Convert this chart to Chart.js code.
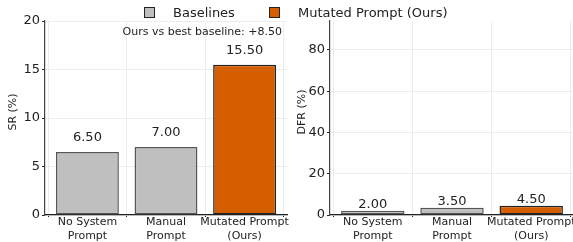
<!DOCTYPE html>
<html lang="en">

<head>
  <meta charset="UTF-8">
  <title>SR / DFR comparison</title>
  <style>
    body {
      margin: 0;
      width: 573px;
      height: 242px;
      overflow: hidden;
      background: white;
      position: relative;
      font-family: "DejaVu Sans", sans-serif;
      color: #222;
    }

    canvas {
      position: absolute;
      top: 0;
    }

    .legend-box {
      position: absolute;
      top: 7px;
      width: 9px;
      height: 9px;
      border: 1px solid #222;
    }

    .legend-text {
      position: absolute;
      top: 5px;
      font-size: 13px;
      line-height: 16px;
      white-space: nowrap;
    }

    .note {
      position: absolute;
      top: 25px;
      right: 291px;
      font-size: 11px;
      line-height: 14px;
      white-space: nowrap;
    }
  </style>
</head>

<body>
  <canvas id="srChart" width="290" height="242" style="left:0"></canvas>
  <canvas id="dfrChart" width="292" height="242" style="left:285px"></canvas>

  <div class="legend-box" style="left:144px;background:#bfbfbf"></div>
  <div class="legend-text" style="left:173px">Baselines</div>
  <div class="legend-box" style="left:269px;background:#d55e00"></div>
  <div class="legend-text" style="left:298px">Mutated Prompt (Ours)</div>
  <div class="note" id="note"></div>

  <script src="https://cdn.jsdelivr.net/npm/chart.js"></script>
  <script>
    // data
    const categories = [['No System', 'Prompt'], ['Manual', 'Prompt'], ['Mutated Prompt', '(Ours)']];
    const srValues = [6.5, 7.0, 15.5];
    const dfrValues = [2.0, 3.5, 4.5];
    const srTicks = [0, 5, 10, 15, 20];
    const dfrTicks = [0, 20, 40, 60, 80];

    const GRAY = '#bfbfbf';
    const ORANGE = '#d55e00';
    const FONT = '"DejaVu Sans"';

    // ours vs best baseline
    const best = Math.max(...srValues.slice(0, -1));
    const gain = srValues[srValues.length - 1] - best;
    document.getElementById('note').textContent = 'Ours vs best baseline: +' + gain.toFixed(2);

    // labels sit one axis unit above each bar
    const valueLabels = {
      id: 'valueLabels',
      afterDatasetsDraw(chart) {
        const ctx = chart.ctx;
        const yScale = chart.scales.y;
        ctx.save();
        ctx.font = '13px ' + FONT;
        ctx.fillStyle = '#222';
        ctx.textAlign = 'center';
        ctx.textBaseline = 'alphabetic';
        chart.getDatasetMeta(0).data.forEach((bar, i) => {
          const v = chart.data.datasets[0].data[i].y;
          ctx.fillText(v.toFixed(2), bar.x, yScale.getPixelForValue(v + 1) - 1);
        });
        ctx.restore();
      }
    };

    // rotated y title, sits a bit above the middle like the original
    const yTitle = {
      id: 'yTitle',
      afterDraw(chart, args, opts) {
        const ctx = chart.ctx;
        const area = chart.chartArea;
        ctx.save();
        ctx.translate(opts.x, (area.top + area.bottom) / 2 - 6);
        ctx.rotate(-Math.PI / 2);
        ctx.font = '11px ' + FONT;
        ctx.fillStyle = '#222';
        ctx.textAlign = 'center';
        ctx.textBaseline = 'middle';
        ctx.fillText(opts.text, 0, 0);
        ctx.restore();
      }
    };

    function makeChart(id, values, ticks, yMax, title, titleX) {
      const last = values.length - 1;
      return new Chart(document.getElementById(id), {
        type: 'bar',
        data: {
          datasets: [{
            data: values.map((v, i) => ({ x: i, y: v })),
            backgroundColor: c => c.dataIndex === last ? ORANGE : GRAY,
            borderColor: c => c.dataIndex === last ? '#222' : '#555',
            borderWidth: 1.5,
            borderSkipped: false,
            barPercentage: 0.8,
            categoryPercentage: 1
          }]
        },
        options: {
          responsive: false,
          animation: false,
          layout: { padding: { top: 21, right: 3 } },
          plugins: {
            legend: { display: false },
            tooltip: { enabled: false },
            yTitle: { text: title, x: titleX }
          },
          scales: {
            x: {
              type: 'linear',
              offset: false,
              min: -0.54,
              max: categories.length - 1 + 0.54,
              grid: { color: '#ececec', tickColor: '#222', tickLength: 2 },
              border: { color: '#222', width: 1.2 },
              ticks: {
                color: '#222',
                font: { family: FONT, size: 11 },
                padding: -1,
                maxRotation: 0,
                autoSkip: false,
                callback: v => categories[v]
              },
              afterBuildTicks: s => { s.ticks = categories.map((c, i) => ({ value: i })); },
              afterFit: s => { s.height = 27; }
            },
            y: {
              min: 0,
              max: yMax,
              grid: { color: '#ececec', tickColor: '#222', tickLength: 3 },
              border: { color: '#444', width: 1.2 },
              ticks: { color: '#222', font: { family: FONT, size: 13 }, padding: 2 },
              afterBuildTicks: s => { s.ticks = ticks.map(v => ({ value: v })); },
              afterFit: s => { s.width = 45; }
            }
          }
        },
        plugins: [valueLabels, yTitle]
      });
    }

    makeChart('srChart', srValues, srTicks, 20, 'SR (%)', 13);
    makeChart('dfrChart', dfrValues, dfrTicks, 94, 'DFR (%)', 17);
  </script>
</body>

</html>
